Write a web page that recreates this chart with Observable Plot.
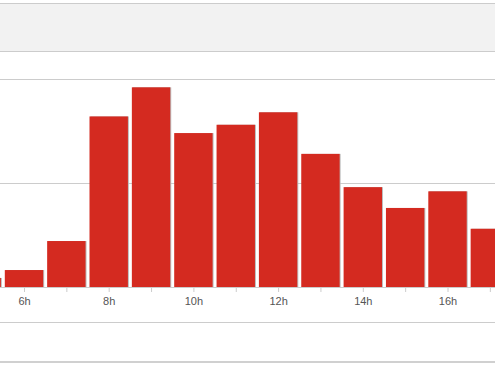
<!DOCTYPE html>
<html>
<head>
<meta charset="utf-8">
<script src="https://cdn.jsdelivr.net/npm/d3@7"></script>
<script src="https://cdn.jsdelivr.net/npm/@observablehq/plot@0.6"></script>
<style>
  html, body { margin: 0; padding: 0; overflow: hidden; background: #fff; width: 495px; height: 366px; }
  #chart { position: absolute; left: 0; top: 0; }
  .band { position: absolute; left: 0; width: 495px; top: 3px; height: 47px; background: #f2f2f2; border-top: 1px solid #cccccc; border-bottom: 1px solid #cccccc; }
  .line { position: absolute; left: 0; width: 495px; height: 0; border-top: 1px solid #cccccc; }
</style>
</head>
<body>
<div id="chart"></div>
<div class="band"></div>
<div class="line" style="top:322px"></div>
<div class="line" style="top:361px; border-top:2px solid #d0d0d0"></div>
<script>
const hours = [5, 6, 7, 8, 9, 10, 11, 12, 13, 14, 15, 16, 17];
const values = [8.7, 16.3, 44.2, 164, 192, 148, 156, 168, 128, 96, 76, 92, 56];
const tickHours = [5, 6, 7, 8, 9, 10, 11, 12, 13, 14, 15, 16, 17];
const gridValues = [100, 200];

const data = hours.map((h, i) => ({hour: h, value: values[i]}));
const step = 42.35;
const half = 19.2 / step;
const x0 = 6 - 24 / step;

const plot = Plot.plot({
  width: 495,
  height: 366,
  marginLeft: 0,
  marginRight: 0,
  marginTop: 79,
  marginBottom: 79,
  style: {background: "transparent", fontFamily: "Liberation Sans, Arial, sans-serif"},
  x: {domain: [x0, x0 + 495 / step], axis: null},
  y: {domain: [0, 200], axis: null},
  marks: [
    Plot.gridY(gridValues, {stroke: "#cccccc", strokeOpacity: 1}),
    Plot.ruleY([0], {stroke: "#cccccc"}),
    Plot.rectY(data, {x1: d => d.hour - half, x2: d => d.hour + half, y: "value", fill: "#bdbdbd", dx: 1, clip: true}),
    Plot.rectY(data, {x1: d => d.hour - half, x2: d => d.hour + half, y: "value", fill: "#d42a20", clip: true}),
    Plot.axisX({
      ticks: tickHours,
      tickFormat: d => d % 2 === 0 ? d + "h" : "",
      tickSize: 5,
      tickPadding: 5,
      stroke: "#cccccc",
      fill: "#555555",
      fontSize: 11,
      label: null
    })
  ]
});
document.getElementById("chart").appendChild(plot);
</script>
</body>
</html>
